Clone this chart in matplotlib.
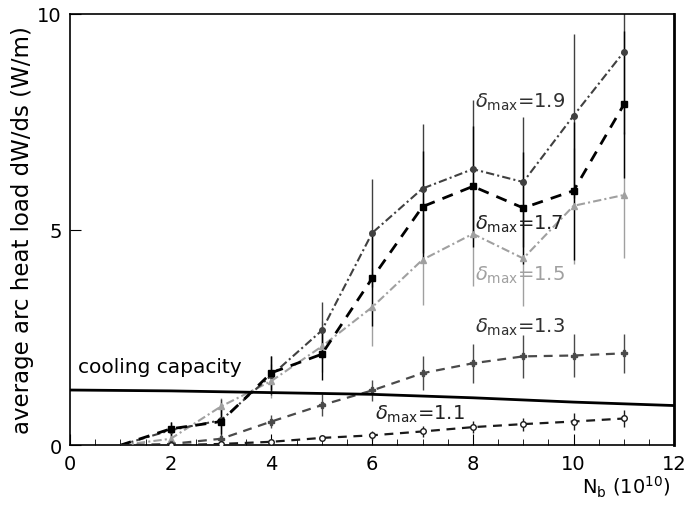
import matplotlib
matplotlib.use("Agg")
import matplotlib.pyplot as plt
from matplotlib.ticker import MultipleLocator
import numpy as np

# Data
nb = [1, 2, 3, 4, 5, 6, 7, 8, 9, 10, 11]
d19 = [0.0, 0.35, 0.58, 1.62, 2.66, 4.92, 5.95, 6.40, 6.10, 7.64, 9.12]
d19_err = [0.0, 0.2, 0.5, 0.45, 0.65, 1.25, 1.5, 1.6, 1.5, 1.9, 1.9]
d17 = [0.0, 0.38, 0.55, 1.68, 2.11, 3.87, 5.53, 6.00, 5.50, 5.90, 7.90]
d17_err = [0.0, 0.15, 0.3, 0.4, 0.6, 1.1, 1.3, 1.4, 1.3, 1.6, 1.7]
d15 = [0.0, 0.15, 0.90, 1.49, 2.29, 3.20, 4.30, 4.90, 4.33, 5.55, 5.80]
d15_err = [0.0, 0.15, 0.2, 0.4, 0.6, 0.9, 1.06, 1.2, 1.1, 1.35, 1.45]
d13 = [0.0, 0.03, 0.15, 0.55, 0.93, 1.27, 1.67, 1.90, 2.06, 2.08, 2.13]
d13_err = [0.0, 0.02, 0.08, 0.15, 0.25, 0.25, 0.4, 0.45, 0.5, 0.5, 0.45]
d11 = [0.0, 0.0, 0.03, 0.08, 0.17, 0.23, 0.32, 0.42, 0.49, 0.55, 0.62]
d11_err = [0.0, 0.0, 0.02, 0.04, 0.06, 0.1, 0.12, 0.14, 0.15, 0.2, 0.2]
cool_x = [0, 2, 4, 6, 8, 10, 12]
cool_y = [1.28, 1.26, 1.22, 1.18, 1.10, 1.00, 0.92]

fig = plt.figure(figsize=(6.86, 5.10), dpi=100)
ax = fig.add_axes([0.102, 0.125, 0.881, 0.846])

x = np.array(nb)

def series(y, err, color, ls, marker, mfc, ms, lw=1.5, dashes=None):
    ax.errorbar(x[1:], np.array(y)[1:], yerr=np.array(err)[1:], fmt='none',
                ecolor=color, elinewidth=1.0, capsize=0, zorder=2)
    line, = ax.plot(x, y, color=color, ls=ls, lw=lw, marker=marker,
                    markersize=ms, markerfacecolor=mfc, markeredgecolor=color,
                    zorder=3, markevery=list(range(1, len(x))))
    if dashes is not None:
        line.set_dashes(dashes)

series(d15, d15_err, '#a0a0a0', '-.', '^', '#a0a0a0', 4, lw=1.5, dashes=[4, 1.5, 1, 1.5])
series(d19, d19_err, '#404040', '-.', 'o', '#404040', 4, lw=1.5, dashes=[4, 1.5, 1, 1.5])
series(d17, d17_err, '#000000', '--', 's', '#000000', 4, lw=2.0, dashes=[4, 3])
series(d13, d13_err, '#4a4a4a', '--', 'P', '#4a4a4a', 4, lw=1.6, dashes=[4, 3])
series(d11, d11_err, '#1a1a1a', '--', 'o', 'white', 4, lw=1.6, dashes=[4, 3])

ax.plot(cool_x, cool_y, color='black', lw=2.0, zorder=4)

fs_lab = 14
ax.text(8.05, 7.96, r'$\delta_{\rm max}$=1.9', fontsize=fs_lab, color='#303030', va='center')
ax.text(8.05, 5.15, r'$\delta_{\rm max}$=1.7', fontsize=fs_lab, color='#202020', va='center')
ax.text(8.05, 3.95, r'$\delta_{\rm max}$=1.5', fontsize=fs_lab, color='#a0a0a0', va='center')
ax.text(8.05, 2.75, r'$\delta_{\rm max}$=1.3', fontsize=fs_lab, color='#303030', va='center')
ax.text(6.05, 0.75, r'$\delta_{\rm max}$=1.1', fontsize=fs_lab, color='#202020', va='center')
ax.text(0.16, 1.83, 'cooling capacity', fontsize=14.5, color='black', va='center')

ax.set_xlim(0, 12)
ax.set_ylim(0, 10)
ax.xaxis.set_major_locator(MultipleLocator(2))
ax.xaxis.set_minor_locator(MultipleLocator(0.5))
ax.yaxis.set_major_locator(MultipleLocator(5))
ax.tick_params(axis='both', which='both', direction='in', labelsize=14)
ax.tick_params(axis='x', which='major', length=8, pad=6)
ax.tick_params(axis='x', which='minor', length=4)
ax.tick_params(axis='y', which='major', length=8, pad=6)
for s in ax.spines.values():
    s.set_linewidth(1.2)
ax.spines['right'].set_linewidth(2.0)

ax.set_ylabel('average arc heat load dW/ds (W/m)', fontsize=16.5, labelpad=2)
fig.text(0.978, 0.02, r'N$_{\rm b}$ (10$^{10}$)', fontsize=14, ha='right', va='bottom')

fig.savefig('out.png', dpi=100)
